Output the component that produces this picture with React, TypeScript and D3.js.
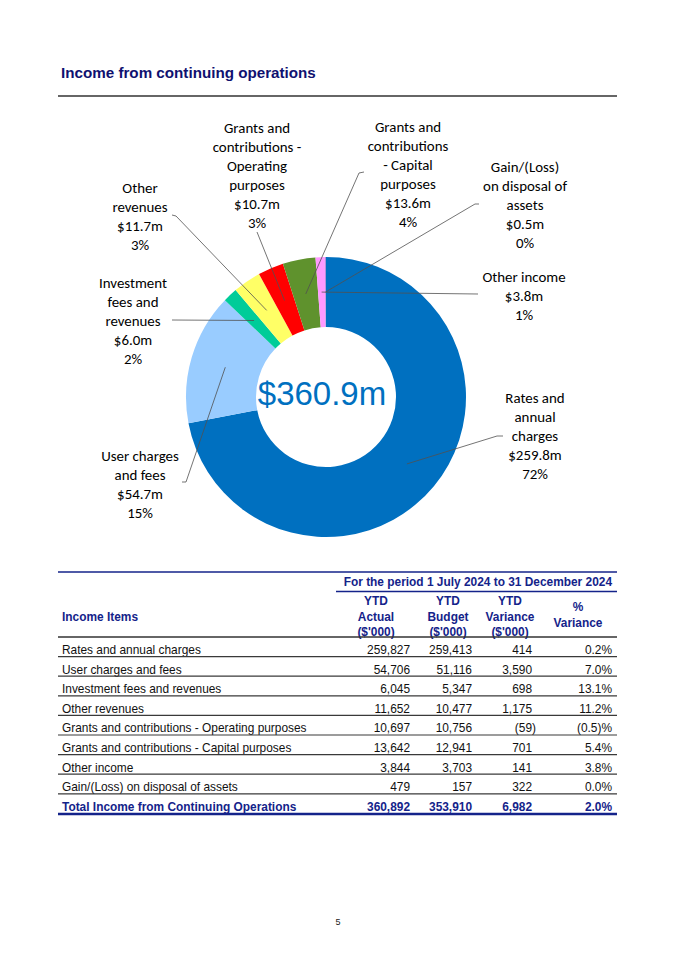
import * as d3 from 'd3';

// ---- data ----
const categories = [
  'Rates and annual charges',
  'User charges and fees',
  'Investment fees and revenues',
  'Other revenues',
  'Grants and contributions - Operating purposes',
  'Grants and contributions - Capital purposes',
  'Other income',
  'Gain/(Loss) on disposal of assets',
];

// chart label wording (line breaks as in the report)
const chartLabels = [
  ['Rates and', 'annual', 'charges'],
  ['User charges', 'and fees'],
  ['Investment', 'fees and', 'revenues'],
  ['Other', 'revenues'],
  ['Grants and', 'contributions -', 'Operating', 'purposes'],
  ['Grants and', 'contributions', '- Capital', 'purposes'],
  ['Other income'],
  ['Gain/(Loss)', 'on disposal of', 'assets'],
];

const actual = [259827, 54706, 6045, 11652, 10697, 13642, 3844, 479];
const budget = [259413, 51116, 5347, 10477, 10756, 12941, 3703, 157];
const variance = [414, 3590, 698, 1175, -59, 701, 141, 322];
const pctVariance = [0.2, 7.0, 13.1, 11.2, -0.5, 5.4, 3.8, 0.0];

const totalLabel = 'Total Income from Continuing Operations';
const totalPct = 2.0;

const headerPeriod = 'For the period 1 July 2024 to 31 December 2024';
const colHeaders = [
  ['YTD', 'Actual', "($'000)"],
  ['YTD', 'Budget', "($'000)"],
  ['YTD', 'Variance', "($'000)"],
  ['%', 'Variance'],
];

// ---- styles / layout ----
const sliceColors = ['#0070C0', '#99CCFF', '#00CC99', '#FFFF66', '#FF0000', '#5F922D', '#FF99FF', '#B38FD9'];

// label block: centre x, first line centre y, leader line start points
const labelLayout = [
  { x: 535, y: 398, pts: [[503, 436], [497, 436]] },
  { x: 140, y: 456, pts: [[182, 482], [186, 482]] },
  { x: 133, y: 283, pts: [[172, 320]] },
  { x: 140, y: 188, pts: [[172, 215], [176, 216]] },
  { x: 257, y: 128, pts: [[257, 232]] },
  { x: 408, y: 127, pts: [[364, 172], [359, 173]] },
  { x: 524, y: 277, pts: [[478, 294]] },
  { x: 525, y: 167, pts: [[479, 204], [475, 204]] },
];

const NAVY = '#14238A';
const TITLE = '#0F1170';
const LABEL_FONT = 'Carlito, Calibri, Lato, sans-serif';
const TABLE_FONT = '"Liberation Sans", Arial, sans-serif';

const cx = 326;
const cy = 397;
const outerR = 140;
const innerR = 70;

const fmt = d3.format(',');
const fmtNum = (v: number) => (v < 0 ? `(${fmt(-v)})` : fmt(v));
const fmtPct = (v: number) => (v < 0 ? `(${(-v).toFixed(1)})%` : `${v.toFixed(1)}%`);

export default function App() {
  const total = d3.sum(actual);
  const totalBudget = d3.sum(budget);
  const totalVar = d3.sum(variance);

  const pie = d3.pie<number>().sort(null).value((d) => d).startAngle(0).endAngle(Math.PI * 2);
  const arcs = pie(actual);
  const arc = d3.arc<d3.PieArcDatum<number>>().innerRadius(innerR).outerRadius(outerR);

  const line = d3.line();

  // table geometry
  const tLeft = 58;
  const tRight = 617;
  const colRight = [410, 472, 532, 612];
  const colCenter = [376, 448, 510, 578];
  const headerBottom = 637;
  const rowH = 19.6;

  const rows = categories.map((c, i) => ({
    label: c,
    cells: [fmt(actual[i]), fmt(budget[i]), fmtNum(variance[i]), fmtPct(pctVariance[i])],
    neg: [false, false, variance[i] < 0, false],
  }));

  return (
    <svg
      width={675}
      height={954}
      viewBox="0 0 675 954"
      style={{ position: 'absolute', left: 0, top: 0, background: '#fff' }}
    >
      <rect width={675} height={954} fill="#fff" />

      {/* title */}
      <text x={61} y={78} fontFamily={TABLE_FONT} fontWeight="bold" fontSize={15.2} fill={TITLE}>
        Income from continuing operations
      </text>
      <line x1={58} x2={617} y1={96} y2={96} stroke="#666" strokeWidth={2.2} />

      {/* donut */}
      <g transform={`translate(${cx},${cy})`}>
        {arcs.map((a, i) => (
          <path key={i} d={arc(a) || ''} fill={sliceColors[i]} />
        ))}
      </g>

      {/* leader lines */}
      {arcs.map((a, i) => {
        const [mx, my] = arc.centroid(a);
        const pts = [...labelLayout[i].pts, [cx + mx, cy + my]] as [number, number][];
        return <path key={i} d={line(pts) || ''} fill="none" stroke="#505050" strokeWidth={0.8} />;
      })}

      {/* centre total */}
      <text
        x={322}
        y={405}
        textAnchor="middle"
        fontFamily={TABLE_FONT}
        fontSize={33}
        fill="#0070C0"
      >
        {`$${(total / 1000).toFixed(1)}m`}
      </text>

      {/* slice labels */}
      {chartLabels.map((lines, i) => {
        const L = labelLayout[i];
        const all = [
          ...lines,
          `$${(actual[i] / 1000).toFixed(1)}m`,
          `${Math.round((actual[i] / total) * 100)}%`,
        ];
        return (
          <text
            key={i}
            textAnchor="middle"
            fontFamily={LABEL_FONT}
            fontSize={14.9}
            fill="#000"
          >
            {all.map((t, j) => (
              <tspan key={j} x={L.x} y={L.y + 5 + j * 19}>
                {t}
              </tspan>
            ))}
          </text>
        );
      })}

      {/* table */}
      <g fontFamily={TABLE_FONT} fontSize={11.9}>
        <line x1={tLeft} x2={tRight} y1={572} y2={572} stroke={NAVY} strokeWidth={1.5} />
        <text x={colRight[3]} y={586} textAnchor="end" fontWeight="bold" fill={NAVY}>
          {headerPeriod}
        </text>
        <line x1={336} x2={tRight} y1={591.5} y2={591.5} stroke={NAVY} strokeWidth={1.5} />

        {colHeaders.map((lines, c) => {
          const y0 = lines.length === 3 ? 605 : 611;
          return (
            <text key={c} textAnchor="middle" fontWeight="bold" fill={NAVY}>
              {lines.map((t, j) => (
                <tspan key={j} x={colCenter[c]} y={y0 + j * 15.5}>
                  {t}
                </tspan>
              ))}
            </text>
          );
        })}
        <text x={62} y={621} fontWeight="bold" fill={NAVY}>
          Income Items
        </text>
        <line x1={tLeft} x2={tRight} y1={headerBottom} y2={headerBottom} stroke="#333" strokeWidth={1.5} />

        {rows.map((r, i) => {
          const top = headerBottom + i * rowH;
          return (
            <g key={i}>
              <text x={62} y={top + 17} fill="#111">
                {r.label}
              </text>
              {r.cells.map((c, k) => (
                <text
                  key={k}
                  x={colRight[k] + (r.neg[k] ? 4 : 0)}
                  y={top + 17}
                  textAnchor="end"
                  fill="#111"
                >
                  {c}
                </text>
              ))}
              <line
                x1={tLeft}
                x2={tRight}
                y1={top + rowH}
                y2={top + rowH}
                stroke="#3a3a3a"
                strokeWidth={1.2}
              />
            </g>
          );
        })}

        {(() => {
          const top = headerBottom + rows.length * rowH;
          const cells = [fmt(total), fmt(totalBudget), fmtNum(totalVar), fmtPct(totalPct)];
          return (
            <g fontWeight="bold" fill={NAVY}>
              <text x={62} y={top + 17}>
                {totalLabel}
              </text>
              {cells.map((c, k) => (
                <text key={k} x={colRight[k]} y={top + 17} textAnchor="end">
                  {c}
                </text>
              ))}
              <line
                x1={tLeft}
                x2={tRight}
                y1={top + rowH + 0.5}
                y2={top + rowH + 0.5}
                stroke={NAVY}
                strokeWidth={2.5}
              />
            </g>
          );
        })()}
      </g>

      {/* page number */}
      <text x={338} y={925} textAnchor="middle" fontFamily={TABLE_FONT} fontSize={9} fill="#222">
        5
      </text>
    </svg>
  );
}
